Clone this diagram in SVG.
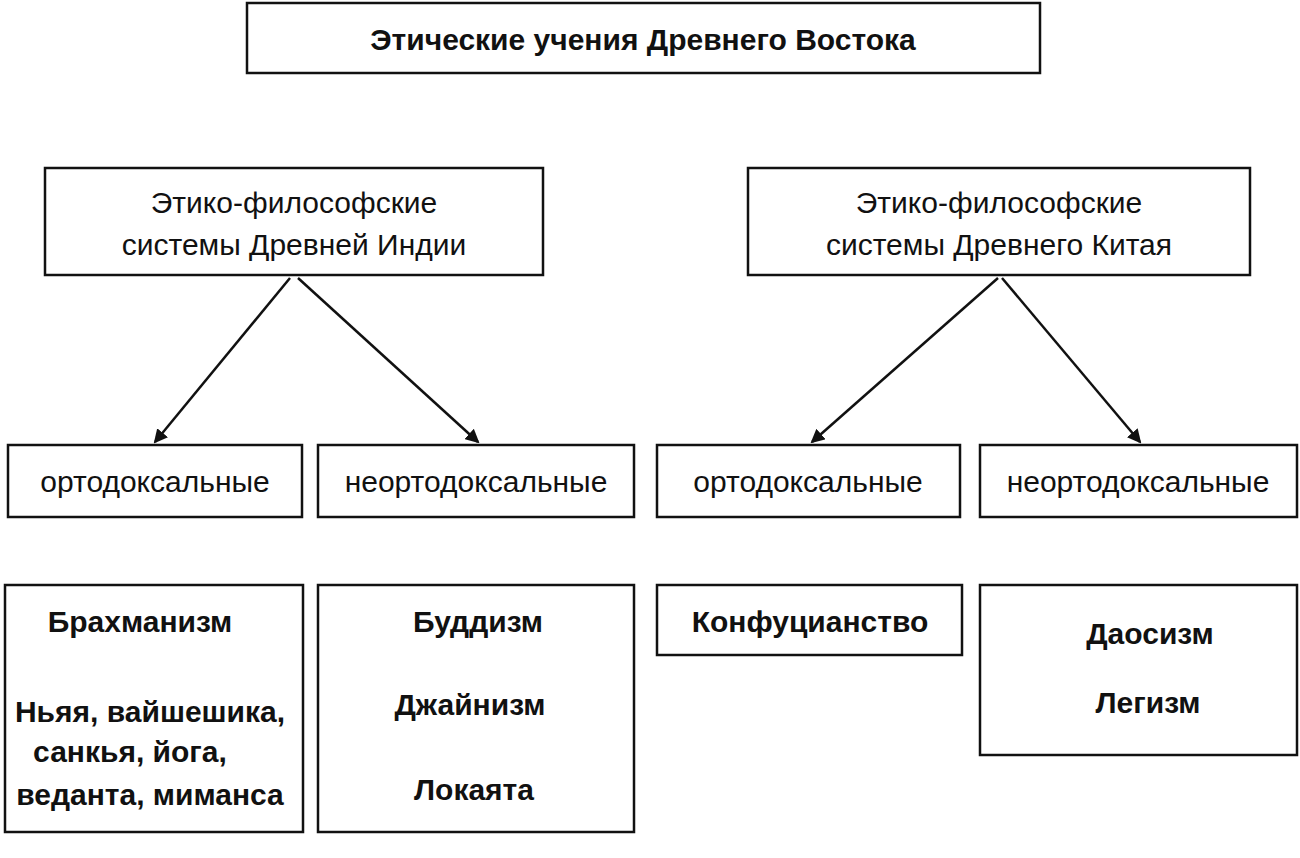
<svg xmlns="http://www.w3.org/2000/svg" width="1300" height="858" viewBox="0 0 1300 858">
<style>
rect{fill:#fff;stroke:#111;stroke-width:2.5}
text{font-family:"Liberation Sans","DejaVu Sans",sans-serif;font-size:30px;fill:#111;text-anchor:middle}
.b{font-weight:bold}
.c{stroke:#111;stroke-width:2.5;fill:none}
</style>
<defs><marker id="a" markerWidth="14" markerHeight="14" refX="12" refY="7" orient="auto" markerUnits="userSpaceOnUse"><path d="M0,0 L14,7 L0,14 Z" fill="#111"/></marker></defs>
<rect width="1300" height="858" style="stroke:none"/>
<g id="title"><rect x="247" y="3" width="793" height="70"/><text class="b" x="643" y="50" font-size="28">Этические учения Древнего Востока</text></g>
<g id="india"><rect x="45" y="168" width="498" height="107"/><text x="294" y="213">Этико-философские</text><text x="294" y="255">системы Древней Индии</text></g>
<g id="china"><rect x="748" y="168" width="502" height="107"/><text x="999" y="213">Этико-философские</text><text x="999" y="255">системы Древнего Китая</text></g>
<g id="connectors">
<line class="c" x1="290" y1="278" x2="155" y2="442" marker-end="url(#a)"/>
<line class="c" x1="298" y1="278" x2="478" y2="442" marker-end="url(#a)"/>
<line class="c" x1="998" y1="278" x2="812" y2="442" marker-end="url(#a)"/>
<line class="c" x1="1002" y1="278" x2="1140" y2="442" marker-end="url(#a)"/>
</g>
<g id="i-orth"><rect x="8" y="445" width="294" height="72"/><text x="155" y="492">ортодоксальные</text></g>
<g id="i-neorth"><rect x="318" y="445" width="316" height="72"/><text x="476" y="492">неортодоксальные</text></g>
<g id="c-orth"><rect x="657" y="445" width="303" height="72"/><text x="808" y="492">ортодоксальные</text></g>
<g id="c-neorth"><rect x="980" y="445" width="317" height="72"/><text x="1138" y="492">неортодоксальные</text></g>
<g id="i-orth-list"><rect x="5" y="585" width="298" height="247"/><text class="b" x="140" y="632">Брахманизм</text><text class="b" x="150" y="722">Ньяя, вайшешика,</text><text class="b" x="130" y="762">санкья, йога,</text><text class="b" x="150" y="805">веданта, миманса</text></g>
<g id="i-neorth-list"><rect x="318" y="585" width="316" height="247"/><text class="b" x="478" y="632">Буддизм</text><text class="b" x="470" y="715">Джайнизм</text><text class="b" x="474" y="800">Локаята</text></g>
<g id="c-orth-list"><rect x="657" y="585" width="305" height="70"/><text class="b" x="810" y="632">Конфуцианство</text></g>
<g id="c-neorth-list"><rect x="980" y="585" width="317" height="170"/><text class="b" x="1150" y="644">Даосизм</text><text class="b" x="1148" y="713">Легизм</text></g>
</svg>
